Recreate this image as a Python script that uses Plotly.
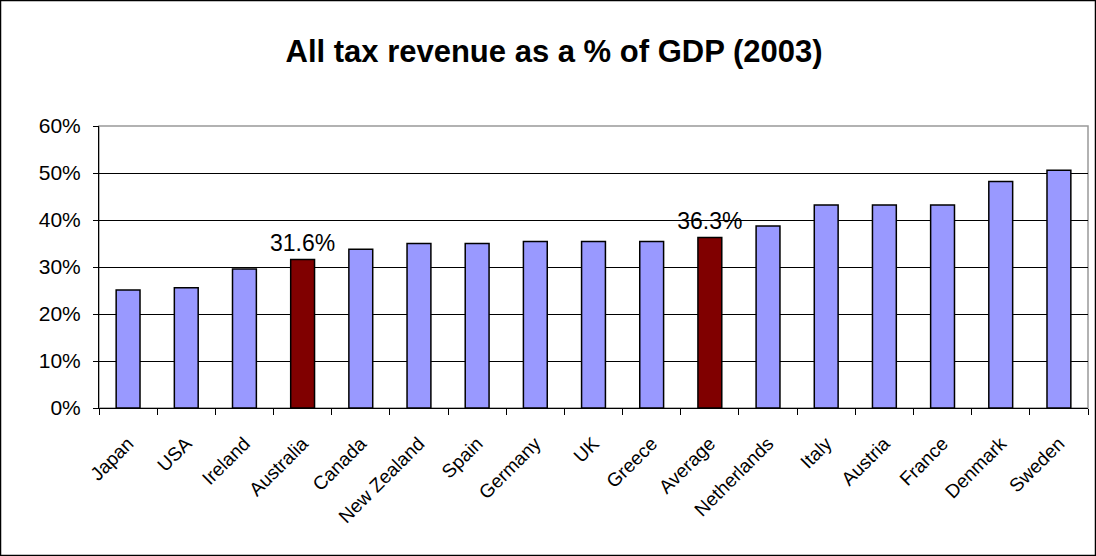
import plotly.graph_objects as go

countries = ["Japan", "USA", "Ireland", "Australia", "Canada", "New Zealand", "Spain",
             "Germany", "UK", "Greece", "Average", "Netherlands", "Italy", "Austria",
             "France", "Denmark", "Sweden"]
values = [25.1, 25.6, 29.6, 31.6, 33.8, 35.0, 35.0, 35.4, 35.4, 35.4, 36.3, 38.7,
          43.2, 43.2, 43.2, 48.2, 50.6]
highlight = ["Australia", "Average"]
tick_vals = [0, 10, 20, 30, 40, 50, 60]
tick_text = ["0%", "10%", "20%", "30%", "40%", "50%", "60%"]

colors = ["#800000" if c in highlight else "#9999FF" for c in countries]
labels = [f"{v:.1f}%" if c in highlight else "" for c, v in zip(countries, values)]

FONT = "Liberation Sans, Arial, sans-serif"

fig = go.Figure(go.Bar(
    x=countries, y=values,
    marker=dict(color=colors, line=dict(color="#000000", width=1.5)),
    text=labels, textposition="outside", cliponaxis=False, constraintext="none",
    textfont=dict(family=FONT, size=23, color="#000000"),
))

W, H = 1096, 556
ml, mr, mt, mb = 99, 8, 126, 148
pw, ph = W - ml - mr, H - mt - mb

fig.update_layout(
    width=W, height=H,
    margin=dict(l=ml, r=mr, t=mt, b=mb),
    paper_bgcolor="white", plot_bgcolor="white",
    bargap=0.59,
    showlegend=False,
    font=dict(family=FONT, color="#000000"),
    title=dict(text="<b>All tax revenue as a % of GDP (2003)</b>",
               xref="container", x=554 / W, xanchor="center",
               yref="container", y=1 - 51 / H, yanchor="middle",
               font=dict(size=31, family=FONT, color="#000000")),
    xaxis=dict(tickangle=-45, tickfont=dict(size=19), showline=True, linecolor="#000000",
               linewidth=1, ticks="outside", tickson="boundaries", ticklen=6,
               tickcolor="#000000", showgrid=False, ticklabelstandoff=16),
    yaxis=dict(range=[0, 60], tickvals=tick_vals, ticktext=tick_text,
               tickfont=dict(size=21), showline=True, linecolor="#000000", linewidth=1,
               ticks="outside", ticklen=5, tickcolor="#000000",
               showgrid=True, gridcolor="#000000", gridwidth=1, zeroline=False,
               ticklabelstandoff=8),
    shapes=[
        dict(type="rect", xref="paper", yref="paper", x0=0, x1=1, y0=0, y1=1,
             line=dict(color="#999999", width=1.5), layer="below"),
        dict(type="rect", xref="paper", yref="paper",
             x0=-ml / pw + 0.5 / pw, x1=1 + mr / pw - 0.5 / pw,
             y0=-mb / ph + 0.5 / ph, y1=1 + mt / ph - 0.5 / ph,
             line=dict(color="#000000", width=1.5)),
    ],
)

fig.write_html("out.html")
